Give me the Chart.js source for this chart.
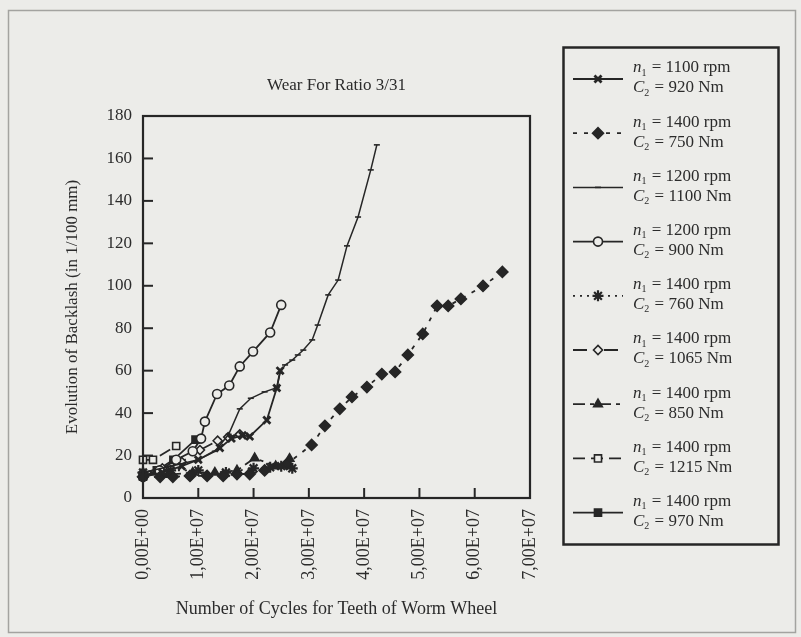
<!DOCTYPE html>
<html>
<head>
<meta charset="utf-8">
<title>Wear For Ratio 3/31</title>
<script src="https://cdn.jsdelivr.net/npm/chart.js@4.4.1/dist/chart.umd.min.js"></script>
<style>
  body { margin: 0; background: #ecece9; }
  canvas { display: block; }
</style>
</head>
<body>
<canvas id="wear" width="801" height="637"></canvas>
<script>
// test runs: input speed n1 (rpm) and output torque C2 (Nm)
var speeds  = ['1100', '1400', '1200', '1200', '1400', '1400', '1400', '1400', '1400'];
var torques = ['920', '750', '1100', '900', '760', '1065', '850', '1215', '970'];

// cycles of the worm wheel teeth
var x920  = [0, 0.35e7, 0.7e7, 1.0e7, 1.39e7, 1.6e7, 1.8e7, 1.93e7, 2.24e7, 2.42e7, 2.48e7];
var x750  = [0, 0.31e7, 0.54e7, 0.85e7, 1.16e7, 1.45e7, 1.7e7, 1.93e7, 2.2e7, 2.6e7, 3.05e7, 3.29e7, 3.56e7, 3.78e7, 4.05e7, 4.32e7, 4.56e7, 4.79e7, 5.06e7, 5.32e7, 5.52e7, 5.75e7, 6.15e7, 6.5e7];
var x1100 = [0, 0.5e7, 1.0e7, 1.3e7, 1.55e7, 1.75e7, 1.95e7, 2.2e7, 2.42e7, 2.48e7, 2.57e7, 2.7e7, 2.8e7, 2.9e7, 3.06e7, 3.16e7, 3.35e7, 3.53e7, 3.69e7, 3.89e7, 4.12e7, 4.23e7];
var x900  = [0, 0.3e7, 0.6e7, 0.9e7, 1.05e7, 1.12e7, 1.34e7, 1.56e7, 1.75e7, 1.99e7, 2.3e7, 2.5e7];
var x760  = [0, 0.5e7, 1.0e7, 1.5e7, 2.0e7, 2.3e7, 2.5e7, 2.7e7];
var x1065 = [0, 0.35e7, 0.7e7, 1.03e7, 1.35e7, 1.54e7, 1.75e7];
var x850  = [0, 0.45e7, 0.9e7, 1.3e7, 1.7e7, 2.02e7, 2.4e7, 2.65e7];
var x1215 = [0, 0.18e7, 0.6e7];
var x970  = [0, 0.25e7, 0.55e7, 0.95e7];

// backlash in 1/100 mm
var y920  = [10, 12, 15, 18, 23.6, 28, 29.5, 29, 36.7, 51.8, 60];
var y750  = [10, 10, 10, 10.4, 10.4, 10.4, 11.3, 11.3, 13, 16, 25, 34, 42, 47.6, 52.3, 58.4, 59.4, 67.4, 77.3, 90.5, 90.5, 93.8, 99.9, 106.5];
var y1100 = [12, 15, 18, 22, 30, 42, 47, 50, 52, 59, 62.7, 65, 67.4, 69.7, 74.5, 81.5, 95.7, 102.7, 118.8, 132.4, 154.6, 166.4];
var y900  = [10, 13, 18, 22, 28, 36, 49, 53, 62, 69, 78, 91];
var y760  = [12, 13, 13, 12, 14, 14.5, 15, 14];
var y1065 = [12, 14, 17, 22.6, 27, 28.7, 30];
var y850  = [11, 11, 12, 12, 13, 18.8, 15, 18.5];
var y1215 = [18, 18, 24.5];
var y970  = [10, 13, 18, 27.5];

var xTickLabels = ['0,00E+00', '1,00E+07', '2,00E+07', '3,00E+07', '4,00E+07', '5,00E+07', '6,00E+07', '7,00E+07'];

var ink = '#262626';
var paper = '#ecece9';
var serif = "'Liberation Serif', 'Times New Roman', serif";

function pairs(xs, ys) {
  return xs.map(function (v, i) { return { x: v, y: ys[i] }; });
}

function run(xs, ys, look) {
  return {
    data: pairs(xs, ys),
    borderColor: ink,
    borderWidth: look.width || 1.8,
    borderDash: look.dash || [],
    pointStyle: look.marker,
    pointRadius: look.size || 4.5,
    pointBorderWidth: look.pw || 1.6,
    pointBorderColor: ink,
    pointBackgroundColor: look.filled ? ink : paper,
    pointHoverRadius: look.size || 4.5,
    tension: 0,
    clip: false
  };
}

var runs = [
  run(x920, y920, { marker: 'crossRot', size: 5, pw: 2.8 }),
  run(x750, y750, { marker: 'rectRot', size: 5.5, filled: true, dash: [4, 7] }),
  run(x1100, y1100, { marker: 'line', size: 3, width: 1.5 }),
  run(x900, y900, { marker: 'circle', size: 4.5 }),
  run(x760, y760, { marker: 'star', size: 5.5, pw: 2.2, dash: [2, 5] }),
  run(x1065, y1065, { marker: 'rectRot', size: 4.5, dash: [14, 7, 3, 7] }),
  run(x850, y850, { marker: 'triangle', size: 5, filled: true, dash: [12, 5, 4, 5] }),
  run(x1215, y1215, { marker: 'rect', size: 5, dash: [12, 6] }),
  run(x970, y970, { marker: 'rect', size: 5, filled: true })
];

// draws the left hand label "sym" with a subscript, then the rest of the line
function subText(ctx, x, y, sym, sub, rest) {
  ctx.font = 'italic 17px ' + serif;
  ctx.fillText(sym, x, y);
  x += ctx.measureText(sym).width;
  ctx.font = '10px ' + serif;
  ctx.fillText(sub, x, y + 5);
  x += ctx.measureText(sub).width;
  ctx.font = '17px ' + serif;
  ctx.fillText(rest, x + 1, y);
}

var decor = {
  id: 'decor',
  beforeDraw: function (chart) {
    var ctx = chart.ctx;
    ctx.save();
    ctx.fillStyle = paper;
    ctx.fillRect(0, 0, chart.width, chart.height);
    ctx.strokeStyle = '#a3a3a0';
    ctx.lineWidth = 1.5;
    ctx.strokeRect(8.5, 10.5, 787, 622);
    ctx.restore();
  },
  afterDatasetsDraw: function (chart) {
    var ctx = chart.ctx, a = chart.chartArea;
    var sx = chart.scales.x, sy = chart.scales.y;
    ctx.save();
    ctx.strokeStyle = ink;
    ctx.lineWidth = 2;
    // tick marks point into the plot
    sx.ticks.forEach(function (t) {
      var px = sx.getPixelForValue(t.value);
      ctx.beginPath(); ctx.moveTo(px, a.bottom); ctx.lineTo(px, a.bottom - 10); ctx.stroke();
    });
    sy.ticks.forEach(function (t) {
      var py = sy.getPixelForValue(t.value);
      ctx.beginPath(); ctx.moveTo(a.left, py); ctx.lineTo(a.left + 10, py); ctx.stroke();
    });
    ctx.lineWidth = 2.2;
    ctx.strokeRect(a.left, a.top, a.right - a.left, a.bottom - a.top);
    ctx.restore();
  },
  afterDraw: function (chart) {
    var ctx = chart.ctx;
    ctx.save();
    ctx.strokeStyle = ink;
    ctx.lineWidth = 2.5;
    ctx.strokeRect(563.5, 47.5, 215, 497);
    chart.data.datasets.forEach(function (ds, i) {
      var cy = 79 + i * 54.2;
      ctx.save();
      ctx.strokeStyle = ds.borderColor;
      ctx.lineWidth = ds.borderWidth;
      ctx.setLineDash(ds.borderDash);
      ctx.beginPath(); ctx.moveTo(573, cy); ctx.lineTo(623, cy); ctx.stroke();
      ctx.restore();
      ctx.save();
      ctx.strokeStyle = ds.pointBorderColor;
      ctx.fillStyle = ds.pointBackgroundColor;
      ctx.lineWidth = ds.pointBorderWidth;
      Chart.helpers.drawPoint(ctx, {
        pointStyle: ds.pointStyle, radius: ds.pointRadius,
        borderWidth: ds.pointBorderWidth, rotation: 0
      }, 598, cy);
      ctx.restore();
      ctx.fillStyle = '#2b2b2b';
      ctx.textBaseline = 'middle';
      ctx.textAlign = 'left';
      subText(ctx, 633, cy - 11, 'n', '1', ' = ' + speeds[i] + ' rpm');
      subText(ctx, 633, cy + 9, 'C', '2', ' = ' + torques[i] + ' Nm');
    });
    ctx.restore();
  }
};

Chart.defaults.font.family = serif;
Chart.defaults.font.size = 17;
Chart.defaults.color = '#2b2b2b';

new Chart(document.getElementById('wear'), {
  type: 'line',
  data: { datasets: runs },
  options: {
    responsive: false,
    animation: false,
    layout: { padding: { left: 0, top: 60, right: 271, bottom: 0 } },
    plugins: {
      legend: { display: false },
      tooltip: { enabled: false },
      title: {
        display: true,
        text: 'Wear For Ratio 3/31',
        fullSize: false,
        font: { size: 17, weight: 'normal' },
        padding: { top: 15, bottom: 20.6 }
      }
    },
    scales: {
      x: {
        type: 'linear',
        min: 0,
        max: 7e7,
        afterFit: function (s) { s.height = 139; },
        grid: { display: false, drawTicks: false },
        border: { display: false },
        ticks: {
          stepSize: 1e7,
          autoSkip: false,
          minRotation: 90,
          maxRotation: 90,
          padding: 11,
          font: { size: 18 },
          callback: function (v, i) { return xTickLabels[i]; }
        },
        title: {
          display: true,
          text: 'Number of Cycles for Teeth of Worm Wheel',
          font: { size: 18 },
          padding: { bottom: 17 }
        }
      },
      y: {
        min: 0,
        max: 180,
        afterFit: function (s) { s.width = 143; },
        grid: { display: false, drawTicks: false },
        border: { display: false },
        ticks: { stepSize: 20, padding: 11 },
        title: {
          display: true,
          text: 'Evolution of Backlash (in 1/100 mm)',
          font: { size: 17 },
          padding: { top: 62 }
        }
      }
    }
  },
  plugins: [decor]
});
</script>
</body>
</html>
